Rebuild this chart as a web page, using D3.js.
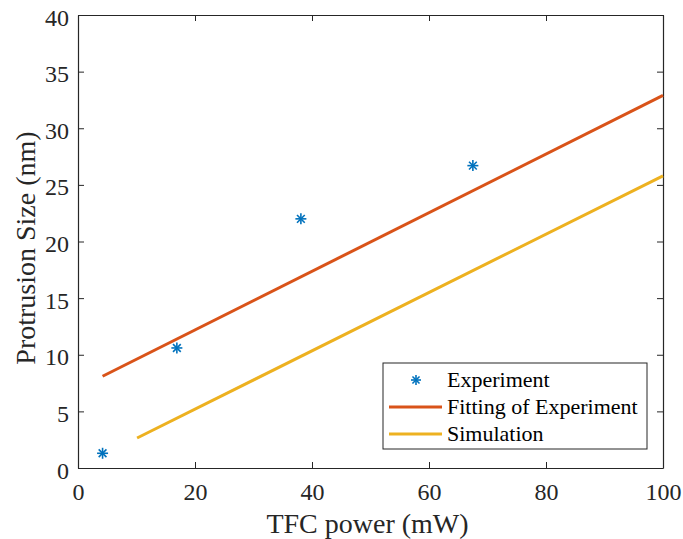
<!DOCTYPE html>
<html>
<head>
<meta charset="utf-8">
<script src="https://cdn.jsdelivr.net/npm/d3@7"></script>
<style>
  body { margin: 0; background: #fff; }
  svg text { font-family: "Liberation Serif", "Times New Roman", serif; }
</style>
</head>
<body>
<svg id="chart" width="683" height="539"></svg>
<script>
// data
const expPower = [4.2, 16.9, 38.1, 67.5];
const expSize = [1.3, 10.6, 22.0, 26.7];
const fitPower = [4.2, 100];
const fitSize = [8.1, 32.9];
const simPower = [10.1, 100];
const simSize = [2.65, 25.8];
const xTicks = [0, 20, 40, 60, 80, 100];
const yTicks = [0, 5, 10, 15, 20, 25, 30, 35, 40];
const legendLabels = ["Experiment", "Fitting of Experiment", "Simulation"];

const margin = {top: 15, right: 20, bottom: 71, left: 78};
const width = 683 - margin.left - margin.right;
const height = 539 - margin.top - margin.bottom;

const x = d3.scaleLinear().domain([0, 100]).range([0, width]);
const y = d3.scaleLinear().domain([0, 40]).range([height, 0]);

const svg = d3.select('#chart');
const chart = svg.append('g')
  .attr('transform', 'translate(' + margin.left + ',' + margin.top + ')');

// axes, ticks point inward, mirrored on top and right
const xAxis = d3.axisBottom(x).tickValues(xTicks).tickSizeInner(-6).tickSizeOuter(0).tickPadding(15);
const yAxis = d3.axisLeft(y).tickValues(yTicks).tickSizeInner(-6).tickSizeOuter(0).tickPadding(9);
const xTop = d3.axisTop(x).tickValues(xTicks).tickSizeInner(-6).tickSizeOuter(0).tickFormat('');
const yRight = d3.axisRight(y).tickValues(yTicks).tickSizeInner(-6).tickSizeOuter(0).tickFormat('');

chart.append('g').attr('transform', 'translate(0,' + height + ')').call(xAxis);
chart.append('g').attr('class', 'yaxis').call(yAxis);
chart.append('g').call(xTop);
chart.append('g').attr('transform', 'translate(' + width + ',0)').call(yRight);

chart.selectAll('.domain').attr('stroke', '#262626').attr('stroke-width', 1.2);
chart.selectAll('.tick line').attr('stroke', '#262626');
chart.selectAll('.tick text')
  .style('font-size', '24px')
  .style('font-family', '"Liberation Serif", serif')
  .attr('fill', '#262626');
chart.selectAll('.yaxis .tick text').attr('dy', '0.42em');

// axis titles
svg.append('text')
  .attr('x', margin.left + width / 2 - 3)
  .attr('y', 533)
  .attr('text-anchor', 'middle')
  .style('font-size', '28px')
  .attr('fill', '#262626')
  .text('TFC power (mW)');
svg.append('text')
  .attr('transform', 'translate(35,' + 248 + ') rotate(-90)')
  .attr('text-anchor', 'middle')
  .style('font-size', '28px')
  .attr('fill', '#262626')
  .text('Protrusion Size (nm)');

const line = d3.line().x(d => x(d[0])).y(d => y(d[1]));

chart.append('path')
  .datum(fitPower.map((p, i) => [p, fitSize[i]]))
  .attr('fill', 'none')
  .attr('stroke', '#D95319')
  .attr('stroke-width', 3)
  .attr('d', line);

chart.append('path')
  .datum(simPower.map((p, i) => [p, simSize[i]]))
  .attr('fill', 'none')
  .attr('stroke', '#EDB120')
  .attr('stroke-width', 3)
  .attr('d', line);

// asterisk markers
function star(g, r) {
  [0, 45, 90, 135].forEach(a => {
    const rad = a * Math.PI / 180;
    g.append('line')
      .attr('x1', -r * Math.cos(rad)).attr('y1', -r * Math.sin(rad))
      .attr('x2', r * Math.cos(rad)).attr('y2', r * Math.sin(rad))
      .attr('stroke', '#0072BD')
      .attr('stroke-width', 1.6);
  });
}

expPower.forEach((p, i) => {
  const g = chart.append('g')
    .attr('transform', 'translate(' + x(p) + ',' + y(expSize[i]) + ')');
  star(g, 5.5);
});

// legend
const legend = svg.append('g').attr('transform', 'translate(383,363)');
legend.append('rect')
  .attr('width', 264)
  .attr('height', 86)
  .attr('fill', '#fff')
  .attr('stroke', '#262626')
  .attr('stroke-width', 1);

const rowY = [17, 44, 71];
star(legend.append('g').attr('transform', 'translate(33,' + rowY[0] + ')'), 5);
legend.append('line').attr('x1', 6).attr('x2', 59).attr('y1', rowY[1]).attr('y2', rowY[1])
  .attr('stroke', '#D95319').attr('stroke-width', 3);
legend.append('line').attr('x1', 6).attr('x2', 59).attr('y1', rowY[2]).attr('y2', rowY[2])
  .attr('stroke', '#EDB120').attr('stroke-width', 3);

legend.selectAll('text.lbl')
  .data(legendLabels)
  .enter().append('text')
  .attr('class', 'lbl')
  .attr('x', 64)
  .attr('y', (d, i) => rowY[i] + 7)
  .style('font-size', '22px')
  .attr('fill', '#000')
  .text(d => d);
</script>
</body>
</html>
